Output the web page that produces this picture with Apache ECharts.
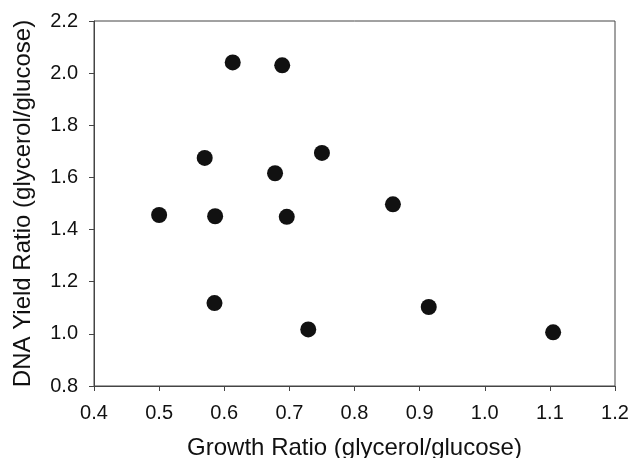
<!DOCTYPE html>
<html>
<head>
<meta charset="utf-8">
<script src="https://cdn.jsdelivr.net/npm/echarts@6/dist/echarts.min.js"></script>
<style>html,body{margin:0;padding:0;background:#fff}#c{width:630px;height:458px}</style>
</head>
<body>
<div id="c"></div>
<script>
const growthRatio = [0.613, 0.689, 0.570, 0.750, 0.678, 0.859, 0.500, 0.586, 0.696, 0.585, 0.914, 0.729, 1.105];
const dnaYieldRatio = [2.041, 2.030, 1.675, 1.694, 1.616, 1.497, 1.456, 1.451, 1.449, 1.118, 1.103, 1.017, 1.006];
const xTicks = [0.4, 0.5, 0.6, 0.7, 0.8, 0.9, 1.0, 1.1, 1.2];
const yTicks = [0.8, 1.0, 1.2, 1.4, 1.6, 1.8, 2.0, 2.2];
const xTitle = 'Growth Ratio (glycerol/glucose)';
const yTitle = 'DNA Yield Ratio (glycerol/glucose)';

const points = growthRatio.map((x, i) => [x, dnaYieldRatio[i]]);
const font = 'Liberation Sans, Arial, Helvetica, sans-serif';
const axisColor = '#444';

const chart = echarts.init(document.getElementById('c'), null, {renderer: 'canvas'});
chart.setOption({
  animation: false,
  backgroundColor: '#fff',
  grid: {left: 94, top: 21, right: 15, bottom: 72, containLabel: false, outerBoundsMode: 'none',
         show: true, borderColor: axisColor, borderWidth: 1, backgroundColor: 'transparent'},
  xAxis: {
    type: 'value', min: xTicks[0], max: xTicks[xTicks.length - 1], interval: 0.1,
    name: xTitle, nameLocation: 'middle', nameGap: 50,
    nameTextStyle: {fontFamily: font, fontSize: 24, color: '#111'},
    axisLine: {show: true, lineStyle: {color: axisColor, width: 1}},
    axisTick: {show: true, inside: false, length: 5, lineStyle: {color: axisColor}},
    splitLine: {show: false},
    axisLabel: {margin: 17, fontFamily: font, fontSize: 20, color: '#111', formatter: v => v.toFixed(1)}
  },
  yAxis: {
    type: 'value', min: yTicks[0], max: yTicks[yTicks.length - 1], interval: 0.2,
    name: yTitle, nameLocation: 'middle', nameGap: 59, nameRotate: 90,
    nameTextStyle: {fontFamily: font, fontSize: 24, color: '#111'},
    axisLine: {show: true, lineStyle: {color: axisColor, width: 1}},
    axisTick: {show: true, inside: false, length: 5, lineStyle: {color: axisColor}},
    splitLine: {show: false},
    axisLabel: {margin: 16, fontFamily: font, fontSize: 20, color: '#111', formatter: v => v.toFixed(1)}
  },
  series: [{
    type: 'scatter',
    data: points,
    symbol: 'circle',
    symbolSize: 16,
    itemStyle: {color: '#111', opacity: 1}
  }]
});
</script>
</body>
</html>
